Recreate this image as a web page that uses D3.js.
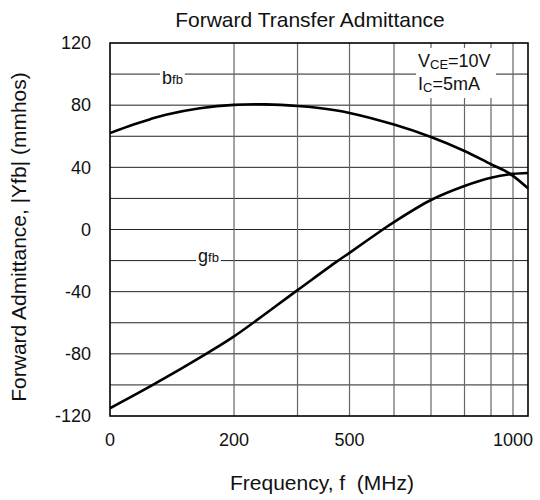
<!DOCTYPE html>
<html>
<head>
<meta charset="utf-8">
<script src="https://cdn.jsdelivr.net/npm/d3@7"></script>
<style>
  html, body { margin: 0; padding: 0; background: #fff; }
  svg { display: block; font-family: "Liberation Sans", Arial, sans-serif; }
</style>
</head>
<body>
<svg id="chart" width="540" height="500"></svg>
<script>
// ---- data ----
const bfbFreq  = [0, 38, 65, 92, 145, 200, 250, 300, 375, 500, 600, 700, 800, 900, 960, 1000, 1100];
const bfbValue = [62, 67.5, 71, 74, 78, 80.2, 80.5, 79.5, 78.3, 75, 67.5, 59.5, 50.5, 42, 38, 34.5, 26.5];
const gfbFreq  = [0, 69, 155, 200, 300, 452, 500, 575, 600, 700, 800, 900, 1000, 1100];
const gfbValue = [-115, -100, -80, -68.8, -39, -20.5, -15, 0, 4.8, 19, 28, 33.3, 35.8, 36.4];
const xTickLabels = [0, 200, 500, 1000];
const xGridLines = [200, 300, 500, 600, 700, 800, 900, 1000];
const yTickLabels = [-120, -80, -40, 0, 40, 80, 120];
const yGridLines = d3.range(-100, 120, 20);

// ---- layout ----
const svg = d3.select("#chart");
const L = 110, R = 528, T = 43, B = 416;

// non-uniform frequency axis of the original sheet (piecewise linear)
const xBreaks = [0, 200, 300, 500, 600, 700, 800, 900, 1000, 1100];
const xFrac = [0, 0.2967, 0.4486, 0.5730, 0.6794, 0.7679, 0.8481, 0.9115, 0.9641, 1];
const x = d3.scaleLinear().domain(xBreaks).range(xFrac.map(t => L + t * (R - L)));
const y = d3.scaleLinear().domain([-120, 120]).range([B, T]);

// grid
const g = svg.append("g");
g.selectAll("line.hg").data(yGridLines).enter().append("line")
  .attr("x1", L).attr("x2", R)
  .attr("y1", d => y(d)).attr("y2", d => y(d))
  .attr("stroke", "#222").attr("stroke-width", 1);
g.selectAll("line.vg").data(xGridLines).enter().append("line")
  .attr("y1", T).attr("y2", B)
  .attr("x1", d => x(d)).attr("x2", d => x(d))
  .attr("stroke", "#666").attr("stroke-width", 1.2);

// curves
const line = d3.line().x(d => x(d[0])).y(d => y(d[1])).curve(d3.curveCatmullRom.alpha(0.5));
const bfb = bfbFreq.map((f, i) => [f, bfbValue[i]]);
const gfb = gfbFreq.map((f, i) => [f, gfbValue[i]]);
[bfb, gfb].forEach(s => {
  svg.append("path").datum(s).attr("d", line)
    .attr("fill", "none").attr("stroke", "#000").attr("stroke-width", 2.6)
    .attr("stroke-linejoin", "round");
});

// labels with white background
function label(px, py, parts) {
  const grp = svg.append("g");
  const bg = grp.append("rect").attr("fill", "#fff");
  const t = grp.append("text").attr("x", px).attr("y", py).attr("fill", "#111");
  parts.forEach(p => {
    t.append("tspan").text(p.t).attr("font-size", p.s);
  });
  const bb = t.node().getBBox();
  bg.attr("x", bb.x - 2).attr("y", bb.y).attr("width", bb.width + 4).attr("height", bb.height);
  return grp;
}
label(162, 84, [{t: "b", s: 18}, {t: "fb", s: 13}]);
label(198, 262, [{t: "g", s: 18}, {t: "fb", s: 13}]);

// condition annotation
const ann = svg.append("g");
const annBg = ann.append("rect").attr("fill", "#fff");
const a1 = ann.append("text").attr("x", 418).attr("y", 67).attr("font-size", 18).attr("fill", "#111");
a1.append("tspan").text("V");
a1.append("tspan").text("CE").attr("font-size", 13).attr("dy", 2);
a1.append("tspan").text("=10V").attr("dy", -2);
const a2 = ann.append("text").attr("x", 418).attr("y", 90).attr("font-size", 18).attr("fill", "#111");
a2.append("tspan").text("I");
a2.append("tspan").text("C").attr("font-size", 13).attr("dy", 2);
a2.append("tspan").text("=5mA").attr("dy", -2);
annBg.attr("x", 416).attr("y", 48).attr("width", 80).attr("height", 50);

// frame
svg.append("rect").attr("x", L).attr("y", T).attr("width", R - L).attr("height", B - T)
  .attr("fill", "none").attr("stroke", "#000").attr("stroke-width", 1.6);

// tick labels
svg.selectAll("text.yt").data(yTickLabels).enter().append("text")
  .attr("x", 91).attr("y", d => y(d)).attr("dy", "0.35em")
  .attr("text-anchor", "end").attr("font-size", 18).attr("fill", "#111")
  .text(d => d);
svg.selectAll("text.xt").data(xTickLabels).enter().append("text")
  .attr("x", d => x(d)).attr("y", 446)
  .attr("text-anchor", "middle").attr("font-size", 18).attr("fill", "#111")
  .text(d => d);

// titles
svg.append("text").attr("x", 310).attr("y", 27).attr("text-anchor", "middle")
  .attr("font-size", 21).attr("fill", "#111").text("Forward Transfer Admittance");
svg.append("text").attr("x", 322).attr("y", 490).attr("text-anchor", "middle")
  .attr("font-size", 21).attr("fill", "#111").style("white-space", "pre")
  .text("Frequency, f  (MHz)");
svg.append("text").attr("transform", "translate(26,237) rotate(-90)")
  .attr("text-anchor", "middle").attr("font-size", 21).attr("fill", "#111")
  .text("Forward Admittance, |Yfb| (mmhos)");
</script>
</body>
</html>
